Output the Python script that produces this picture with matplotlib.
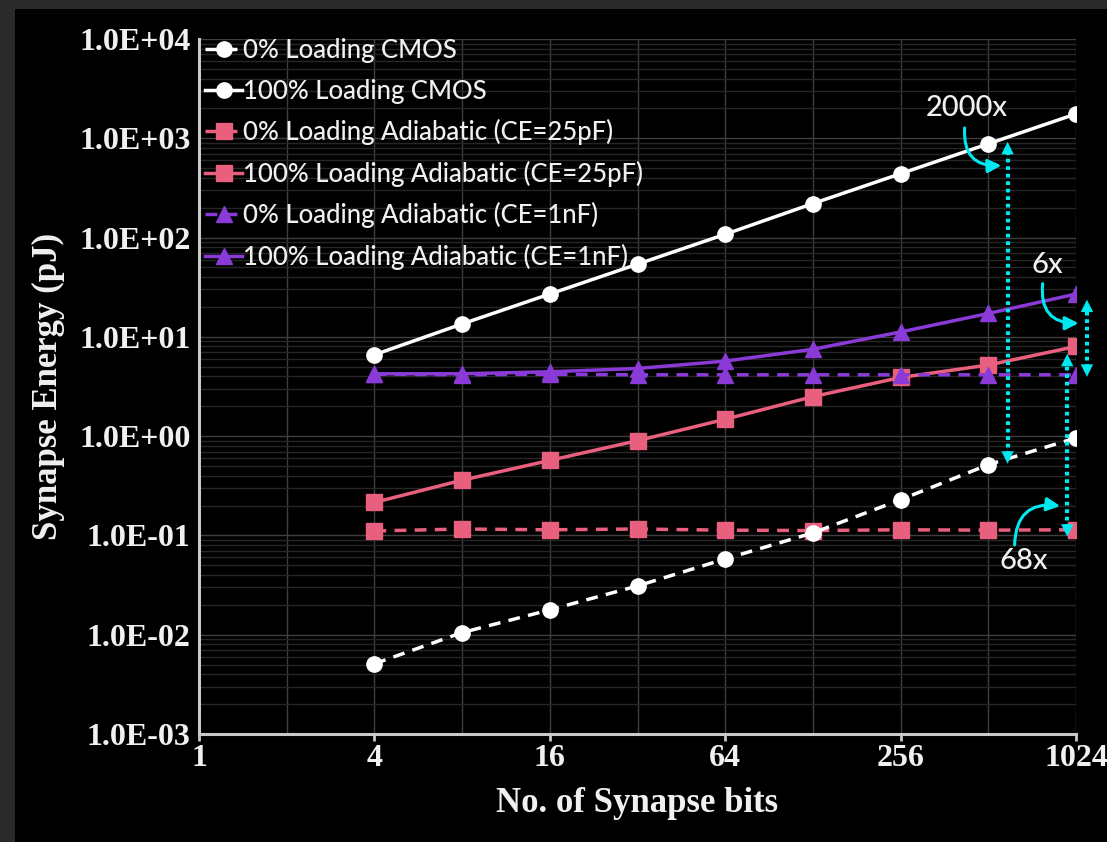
import numpy as np
import matplotlib
matplotlib.use("Agg")
import matplotlib.pyplot as plt
from matplotlib.patches import Rectangle
from matplotlib.ticker import FixedLocator, FuncFormatter, NullFormatter

bits = [4, 8, 16, 32, 64, 128, 256, 512, 1024]

cmos_0 = [0.0051, 0.0105, 0.0178, 0.031, 0.058, 0.106, 0.229, 0.516, 0.96]
cmos_100 = [6.6, 13.5, 27, 54, 108, 220, 440, 880, 1760]
adi25_0 = [0.111, 0.116, 0.114, 0.116, 0.113, 0.112, 0.114, 0.113, 0.114]
adi25_100 = [0.215, 0.36, 0.57, 0.9, 1.48, 2.5, 3.9, 5.2, 8.0]
adi1n_0 = [4.2, 4.15, 4.2, 4.15, 4.15, 4.15, 4.15, 4.15, 4.15]
adi1n_100 = [4.25, 4.25, 4.45, 4.8, 5.7, 7.5, 11.2, 17.2, 27]

labels = ["0% Loading CMOS", "100% Loading CMOS",
          "0% Loading Adiabatic (CE=25pF)", "100% Loading Adiabatic (CE=25pF)",
          "0% Loading Adiabatic (CE=1nF)", "100% Loading Adiabatic (CE=1nF)"]

white = "#ffffff"
pink = "#e8607e"
purple = "#8a3ad6"
cyan = "#00e8f0"

fig = plt.figure(figsize=(11.07, 8.42), dpi=100)
fig.patch.set_facecolor("#2a2a2a")
fig.patches.append(Rectangle((15 / 1107, 0), 1, 1 - 9 / 842, transform=fig.transFigure,
                             facecolor="black", edgecolor="none", zorder=-10))

ax = fig.add_axes([199 / 1107, 1 - 734 / 842, 877 / 1107, 695 / 842])
ax.set_facecolor("black")
ax.set_xscale("log", base=2)
ax.set_yscale("log")
ax.set_xlim(1, 1024)
ax.set_ylim(1e-3, 1e4)

dash = (0, (3.4, 2.4))
lw = 2.5
ax.plot(bits, cmos_0, color=white, ls=dash, lw=lw, marker="o", ms=11, label=labels[0], zorder=5)
ax.plot(bits, cmos_100, color=white, ls="-", lw=lw, marker="o", ms=11, label=labels[1], zorder=5)
ax.plot(bits, adi25_0, color=pink, ls=dash, lw=lw, marker="s", ms=11, label=labels[2], zorder=4)
ax.plot(bits, adi25_100, color=pink, ls="-", lw=lw, marker="s", ms=11, label=labels[3], zorder=4)
ax.plot(bits, adi1n_0, color=purple, ls=dash, lw=lw, marker="^", ms=12, label=labels[4], zorder=4)
ax.plot(bits, adi1n_100, color=purple, ls="-", lw=lw, marker="^", ms=12, label=labels[5], zorder=4)

# axes styling
ax.xaxis.set_major_locator(FixedLocator([1, 4, 16, 64, 256, 1024]))
ax.xaxis.set_minor_locator(FixedLocator([2, 8, 32, 128, 512]))
ax.xaxis.set_major_formatter(FuncFormatter(lambda v, p: f"{int(v)}"))
ax.xaxis.set_minor_formatter(NullFormatter())
ax.yaxis.set_major_locator(FixedLocator([10.0 ** k for k in range(-3, 5)]))
ax.yaxis.set_major_formatter(FuncFormatter(lambda v, p: f"{v:.1E}"))
ax.yaxis.set_minor_formatter(NullFormatter())

ax.grid(True, which="major", axis="both", color="#3e3e3e", lw=1.0)
ax.grid(True, which="minor", axis="x", color="#3e3e3e", lw=1.0)
ax.grid(True, which="minor", axis="y", color="#262626", lw=1.0)
ax.set_axisbelow(True)

for s in ["top", "right"]:
    ax.spines[s].set_visible(False)
for s in ["left", "bottom"]:
    ax.spines[s].set_color("#c8c8c8")
    ax.spines[s].set_linewidth(2.2)

tick_font = dict(family="Liberation Serif", weight="bold", size=23)
ax.tick_params(axis="x", which="major", direction="out", length=5, width=2, color="#c8c8c8",
               labelcolor="#f0f0f0", pad=2)
ax.tick_params(axis="y", which="major", direction="out", length=0, labelcolor="#f0f0f0", pad=6)
ax.tick_params(which="minor", length=0)
for t in ax.get_xticklabels() + ax.get_yticklabels():
    t.set_fontproperties(tick_font)
    t.set_fontsize(23)

ax.set_xlabel("No. of Synapse bits", family="Liberation Serif", weight="bold",
              size=25, color="#f0f0f0", labelpad=10)
ax.set_ylabel("Synapse Energy (pJ)", family="Liberation Serif", weight="bold",
              size=25, color="#f0f0f0", labelpad=10)

leg = ax.legend(loc="upper left", bbox_to_anchor=(-0.005, 1.016), frameon=False,
                prop=dict(family="Lato", size=18.5, weight="medium"), labelcolor="#f0f0f0",
                handlelength=1.45, handletextpad=0.05, labelspacing=0.6, borderaxespad=0)

# annotations (axes fraction)
def dotted_arrow(x, y0, y1):
    ax.plot([x, x], [y0 + 0.012, y1 - 0.012], transform=ax.transAxes, color=cyan,
            lw=3, ls=(0, (0.9, 0.9)), clip_on=False, zorder=6)
    for ya, yb in [(y0 + 0.03, y0), (y1 - 0.03, y1)]:
        ax.annotate("", xy=(x, yb), xytext=(x, ya), xycoords="axes fraction",
                    textcoords="axes fraction",
                    arrowprops=dict(arrowstyle="-|>", color=cyan, lw=0.1,
                                    mutation_scale=22, shrinkA=0, shrinkB=0),
                    annotation_clip=False, zorder=6)

def curved(x0, y0, x1, y1, rad):
    ax.annotate("", xy=(x1, y1), xytext=(x0, y0), xycoords="axes fraction",
                textcoords="axes fraction",
                arrowprops=dict(arrowstyle="-|>", color=cyan, lw=2.2, mutation_scale=20,
                                shrinkA=0, shrinkB=0, connectionstyle=f"arc3,rad={rad}"),
                annotation_clip=False, zorder=6)

ann_font = dict(family="Lato", size=21, weight="medium", color="#f0f0f0")
dotted_arrow(0.922, 0.389, 0.852)
ax.text(0.875, 0.900, "2000x", transform=ax.transAxes, ha="center", va="center", **ann_font)
curved(0.873, 0.872, 0.915, 0.818, 0.55)

dotted_arrow(1.0125, 0.514, 0.625)
ax.text(0.967, 0.675, "6x", transform=ax.transAxes, ha="center", va="center", **ann_font)
curved(0.962, 0.648, 1.003, 0.591, 0.55)

dotted_arrow(0.990, 0.284, 0.547)
ax.text(0.940, 0.249, "68x", transform=ax.transAxes, ha="center", va="center", **ann_font)
curved(0.930, 0.272, 0.982, 0.328, -0.55)

fig.savefig("out.png", dpi=100, facecolor=fig.get_facecolor())
